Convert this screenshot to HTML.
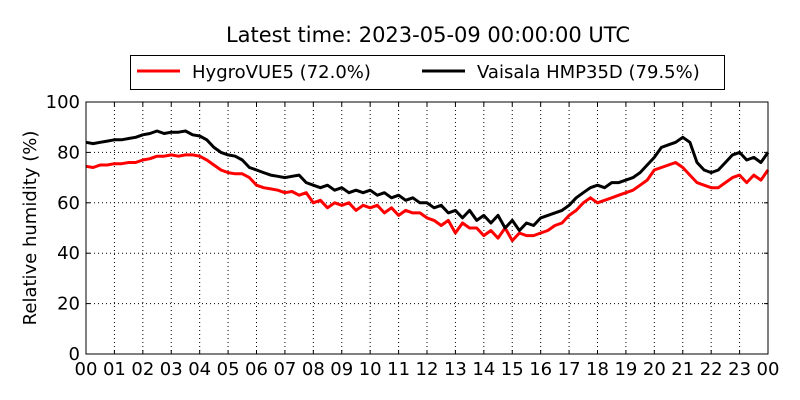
<!DOCTYPE html>
<html><head><meta charset="utf-8"><style>
body{margin:0;background:#fff;}
svg{display:block;font-family:"DejaVu Sans","Liberation Sans",sans-serif;}
</style></head><body>
<svg id="c" width="800" height="400">
<text x="428" y="42" font-size="21" text-anchor="middle">Latest time: 2023-05-09 00:00:00 UTC</text>
<g>
<rect x="130.5" y="55.5" width="594" height="34" fill="#fff" stroke="#000"/>
<g><line x1="137" y1="71" x2="180" y2="71" stroke="#f00" stroke-width="3"/><text x="192" y="78" font-size="18">HygroVUE5 (72.0%)</text></g>
<g><line x1="422" y1="71" x2="465" y2="71" stroke="#000" stroke-width="3"/><text x="477" y="78" font-size="18">Vaisala HMP35D (79.5%)</text></g>
</g>
<text transform="translate(36,228) rotate(-90)" font-size="18" text-anchor="middle">Relative humidity (%)</text>
<g id="grid"></g>
<g id="series"></g>
<rect x="86" y="102" width="682" height="252" fill="none" stroke="#000"/>
<g id="ticks"></g>
</svg>
<script>
const step=0.25;
const hygro=[74.5,74,75,75,75.5,75.5,76,76,77,
77.5,78.5,78.5,79,78.5,79,79,78.5,
77,75,73,72,71.5,71.5,70,67,
66,65.5,65,64,64.5,63,64,60,
61,58,60,59,60,57,59,58,
59,56,58,55,57,56,56,54,
53,51,53,48,52,50,50,47,
49,46,50,45,48,47,47,48,
49,51,52,55,57,60,62,60,
61,62,63,64,65,67,69,73,
74,75,76,74,71,68,67,66,
66,68,70,71,68,71,69,73];
const vaisala=[84,83.5,84,84.5,85,85,85.5,86,87,
87.5,88.5,87.5,88,88,88.5,87,86.5,
85,82,80,79,78.5,77,74,73,
72,71,70.5,70,70.5,71,68,67,
66,67,65,66,64,65,64,65,
63,64,62,63,61,62,60,60,
58,59,56,57,54,57,53,55,
52,55,50,53,49,52,51,54,
55,56,57,59,62,64,66,67,
66,68,68,69,70,72,75,78,
82,83,84,86,84,76,73,72,
73,76,79,80,77,78,76,80];
const yTicks=[0,20,40,60,80,100];
const xTickLabels=["00","01","02","03","04","05","06","07","08","09","10","11","12","13","14","15","16","17","18","19","20","21","22","23","00"];
const L=86,R=768,T=102,B=354;
const xs=h=>L+(R-L)*h/24, ys=v=>B-(B-T)*v/100;
const NS="http://www.w3.org/2000/svg";
function mk(tag,attrs,parent){const e=document.createElementNS(NS,tag);for(const k in attrs)e.setAttribute(k,attrs[k]);parent.appendChild(e);return e;}
const grid=document.getElementById('grid'),ticks=document.getElementById('ticks'),ser=document.getElementById('series');
yTicks.forEach(v=>{const y=ys(v);
 if(v>0&&v<100){const g=mk('line',{x1:L,x2:R,y1:y,y2:y,stroke:'#000','stroke-dasharray':'1,3','stroke-width':1},grid);
 
 }
 mk('line',{x1:L,x2:L+4,y1:y,y2:y,stroke:'#000'},ticks);mk('line',{x1:R-4,x2:R,y1:y,y2:y,stroke:'#000'},ticks);
 const t=mk('text',{x:L-6,y:y+6,'font-size':18,'text-anchor':'end'},ticks);t.textContent=v;
 
 });
xTickLabels.forEach((lab,i)=>{const x=xs(i);
 if(i>0&&i<24){const g=mk('line',{x1:x,x2:x,y1:T,y2:B,stroke:'#000','stroke-dasharray':'1,3','stroke-width':1},grid);
 
 }
 mk('line',{x1:x,x2:x,y1:B,y2:B-4,stroke:'#000'},ticks);mk('line',{x1:x,x2:x,y1:T,y2:T+4,stroke:'#000'},ticks);
 const t=mk('text',{x:x,y:B+21,'font-size':18,'text-anchor':'middle'},ticks);t.textContent=lab;
 
 });
function line(vals,color,name){const d=vals.map((v,i)=>(i?'L':'M')+xs(i*step).toFixed(1)+','+ys(v).toFixed(1)).join('');
 const p=mk('path',{d:d,fill:'none',stroke:color,'stroke-width':3,'stroke-linejoin':'round'},ser);
 
 }
line(hygro,'#f00','hygrovue5-line');
line(vaisala,'#000','vaisala-line');
</script>
</body></html>
